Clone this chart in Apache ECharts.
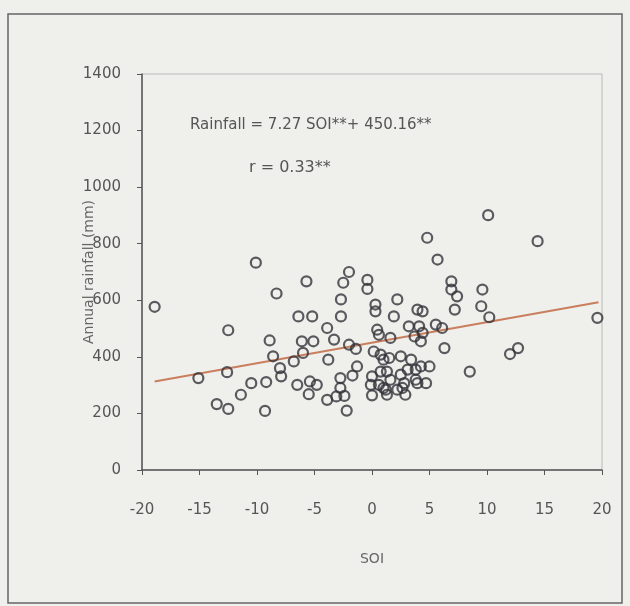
<!DOCTYPE html>
<html><head><meta charset="utf-8">
<script src="https://cdn.jsdelivr.net/npm/echarts@6/dist/echarts.min.js"></script>
<style>html,body{margin:0;padding:0;background:#efefec;}#c{width:630px;height:606px;}</style>
</head><body><div id="c"></div>
<script>
var soi = [-18.9,-15.1,-13.5,-12.5,-12.6,-12.5,-11.4,-10.5,-10.1,-9.3,-9.2,-8.9,-8.6,-8.3,-8.0,-7.9,-6.8,-6.5,-6.4,-6.1,-6.0,-5.7,-5.5,-5.4,-5.2,-5.1,-4.8,-3.9,-3.9,-3.8,-3.3,-2.75,-2.75,-3.1,-2.4,-2.2,-2.0,-2.5,-2.7,-2.7,-2.0,-1.4,-1.3,-1.7,-0.4,-0.4,0.3,0.3,0.45,0.6,0.15,0.75,0.0,-0.1,0.6,0.0,1.2,1.6,1.3,2.2,2.8,2.9,3.1,3.8,3.95,2.5,2.2,1.9,3.2,3.95,1.6,2.5,3.4,1.0,1.3,0.75,1.0,2.65,3.8,4.7,4.25,5.0,4.1,3.7,4.4,4.25,5.55,6.1,6.3,4.4,4.8,5.7,6.9,6.9,7.4,7.2,9.6,9.5,10.2,10.1,14.4,12.0,12.7,8.5,19.6,1.5];
var rainfall = [577,325,233,216,346,494,266,307,733,209,311,458,402,624,360,331,384,301,543,455,414,667,268,313,543,455,301,502,248,390,461,325,290,260,262,210,700,662,603,543,443,428,366,334,672,640,585,561,496,478,419,408,331,301,301,264,284,319,266,284,307,266,355,355,307,337,603,543,508,567,467,402,390,390,348,348,290,290,319,307,366,366,508,472,485,455,514,502,431,561,821,744,667,638,614,567,638,579,540,901,809,410,431,348,538,396];
var fitSoi = [-18.9, 19.7];
var fitRain = [313, 593];
var xTicks = [-20,-15,-10,-5,0,5,10,15,20];
var yTicks = [0,200,400,600,800,1000,1200,1400];
var eqText = 'Rainfall = 7.27 SOI**+ 450.16**';
var rText = 'r = 0.33**';

var pts = soi.map(function(x,i){return [x, rainfall[i]];});
var fit = fitSoi.map(function(x,i){return [x, fitRain[i]];});
var FONT = 'DejaVu Sans';
var chart = echarts.init(document.getElementById('c'), null, {renderer:'canvas'});
chart.setOption({
  backgroundColor:'#efefec',
  animation:false,
  textStyle:{fontFamily:FONT},
  grid:{left:142,right:28,top:74,bottom:136,show:true,borderColor:'#b8b8b8',borderWidth:1,backgroundColor:'transparent'},
  xAxis:{type:'value',min:xTicks[0],max:xTicks[xTicks.length-1],interval:5,
    name:'SOI',nameLocation:'middle',nameGap:82,nameTextStyle:{color:'#666',fontSize:14,fontFamily:FONT},
    axisLine:{onZero:false,lineStyle:{color:'#555',width:1.5}},axisTick:{show:true,length:5,lineStyle:{color:'#555'}},
    axisLabel:{color:'#555',fontSize:15,margin:33,fontFamily:FONT,formatter:function(v){return String(v);}},splitLine:{show:false}},
  yAxis:{type:'value',min:yTicks[0],max:yTicks[yTicks.length-1],interval:200,
    name:'Annual rainfall (mm)',nameLocation:'middle',nameGap:46,nameMoveOverlap:false,nameTextStyle:{color:'#666',fontSize:14,fontFamily:FONT},
    axisLine:{show:true,onZero:false,lineStyle:{color:'#555',width:1.5}},axisTick:{show:true,length:5,lineStyle:{color:'#555'}},
    axisLabel:{color:'#555',fontSize:15,margin:21,fontFamily:FONT,formatter:function(v){return String(v);}},splitLine:{show:false}},
  graphic:[
    {type:'rect',shape:{x:8,y:14,width:614,height:589},style:{fill:'none',stroke:'#666',lineWidth:1.5},z:-1},
    {type:'text',left:190,top:118,style:{text:eqText,fill:'#555',font:'15px "DejaVu Sans"'}},
    {type:'text',left:249,top:160,style:{text:rText,fill:'#555',font:'16px "DejaVu Sans"'}}
  ],
  series:[
    {type:'line',data:fit,symbol:'none',lineStyle:{color:'#c97e5e',width:2},z:1},
    {type:'scatter',data:pts,symbol:'circle',symbolSize:10,itemStyle:{color:'rgba(0,0,0,0)',borderColor:'#33333b',borderWidth:2.2},z:2}
  ]
});
</script></body></html>
